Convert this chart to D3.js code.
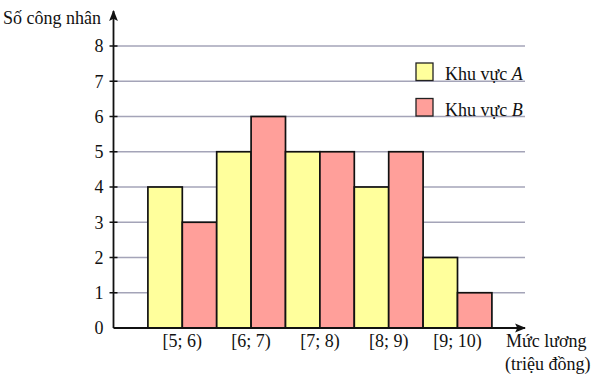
<!DOCTYPE html>
<html>
<head>
<meta charset="utf-8">
<script src="https://cdn.jsdelivr.net/npm/d3@7"></script>
<style>
  body { margin: 0; background: #fff; }
  svg { display: block; }
</style>
</head>
<body>
<div id="chart"></div>
<script>
// categories and values
const categories = ["[5; 6)", "[6; 7)", "[7; 8)", "[8; 9)", "[9; 10)"];
const seriesA = [4, 5, 5, 4, 2];
const seriesB = [3, 6, 5, 5, 1];
const seriesNames = ["A", "B"];
const yTicks = [0, 1, 2, 3, 4, 5, 6, 7, 8];

const width = 594;
const height = 380;
const colors = { A: "#ffff9c", B: "#ff9f9a" };
const font = '"Liberation Serif", "Times New Roman", serif';

const svg = d3.select("#chart").append("svg")
    .attr("width", width)
    .attr("height", height)
    .style("font-family", font);

const x0 = 113.5;   // y axis position
const y0 = 328;     // x axis position
const barW = 34.4;

const x = d3.scaleBand()
    .domain(categories)
    .range([x0 + barW, x0 + barW * 11])
    .padding(0);

const xSub = d3.scaleBand()
    .domain(seriesNames)
    .range([0, x.bandwidth()]);

const y = d3.scaleLinear()
    .domain([0, 8])
    .range([y0, 46]);

// gridlines
svg.append("g")
    .selectAll("line")
    .data(yTicks.filter(d => d > 0))
    .enter().append("line")
    .attr("x1", x0)
    .attr("x2", 525)
    .attr("y1", d => y(d))
    .attr("y2", d => y(d))
    .attr("stroke", "#a4a4b8")
    .attr("stroke-width", 1.3);

// bars
const rows = categories.map((c, i) => ({ cat: c, A: seriesA[i], B: seriesB[i] }));
const groups = svg.append("g")
    .selectAll("g")
    .data(rows)
    .enter().append("g")
    .attr("transform", d => `translate(${x(d.cat)},0)`);

groups.selectAll("rect")
    .data(d => seriesNames.map(s => ({ key: s, value: d[s] })))
    .enter().append("rect")
    .attr("x", d => xSub(d.key))
    .attr("y", d => y(d.value))
    .attr("width", xSub.bandwidth())
    .attr("height", d => y0 - y(d.value))
    .attr("fill", d => colors[d.key])
    .attr("stroke", "#111")
    .attr("stroke-width", 1.7);

// y axis
const yAxis = d3.axisLeft(y)
    .tickValues(yTicks)
    .tickSize(0)
    .tickPadding(10);

const yg = svg.append("g")
    .attr("transform", `translate(${x0},0)`)
    .call(yAxis);
yg.select(".domain").remove();
yg.selectAll("text")
    .style("font-family", font)
    .style("font-size", "18px")
    .attr("fill", "#111");

// small ticks crossing the axis
svg.append("g")
    .selectAll("line")
    .data(yTicks.filter(d => d > 0))
    .enter().append("line")
    .attr("x1", x0 - 4)
    .attr("x2", x0 + 4)
    .attr("y1", d => y(d))
    .attr("y2", d => y(d))
    .attr("stroke", "#111")
    .attr("stroke-width", 1.5);

// x axis labels
const xAxis = d3.axisBottom(x).tickSize(0).tickPadding(6);
const xg = svg.append("g")
    .attr("transform", `translate(0,${y0})`)
    .call(xAxis);
xg.select(".domain").remove();
xg.selectAll("text")
    .style("font-family", font)
    .style("font-size", "18px")
    .attr("fill", "#111");

// axis lines with arrows
svg.append("defs").append("marker")
    .attr("id", "arrow")
    .attr("viewBox", "0 0 10 10")
    .attr("refX", 9)
    .attr("refY", 5)
    .attr("markerWidth", 11)
    .attr("markerHeight", 11)
    .attr("markerUnits", "userSpaceOnUse")
    .attr("orient", "auto")
    .append("path")
    .attr("d", "M0,1 L10,5 L0,9 L2,5 Z")
    .attr("fill", "#111");

svg.append("line")
    .attr("x1", x0).attr("y1", y0)
    .attr("x2", x0).attr("y2", 11)
    .attr("stroke", "#111")
    .attr("stroke-width", 1.8)
    .attr("marker-end", "url(#arrow)");

svg.append("line")
    .attr("x1", x0).attr("y1", y0)
    .attr("x2", 525).attr("y2", y0)
    .attr("stroke", "#111")
    .attr("stroke-width", 1.8)
    .attr("marker-end", "url(#arrow)");

// axis titles
const titles = [
    { text: "Số công nhân", x: 3, y: 24 },
    { text: "Mức lương", x: 506, y: 347 },
    { text: "(triệu đồng)", x: 505, y: 370 }
];
svg.append("g")
    .selectAll("text")
    .data(titles)
    .enter().append("text")
    .attr("x", d => d.x)
    .attr("y", d => d.y)
    .style("font-size", "18px")
    .attr("fill", "#111")
    .text(d => d.text);

// legend
const legend = svg.append("g")
    .selectAll("g")
    .data(seriesNames)
    .enter().append("g")
    .attr("transform", (d, i) => `translate(416,${63 + i * 35.5})`);

legend.append("rect")
    .attr("width", 17)
    .attr("height", 17.5)
    .attr("fill", d => colors[d])
    .attr("stroke", "#222")
    .attr("stroke-width", 1.3);

const lt = legend.append("text")
    .attr("x", 29)
    .attr("y", 17)
    .style("font-size", "18px")
    .attr("fill", "#111");
lt.append("tspan").text("Khu vực ");
lt.append("tspan").style("font-style", "italic").text(d => d);
</script>
</body>
</html>
